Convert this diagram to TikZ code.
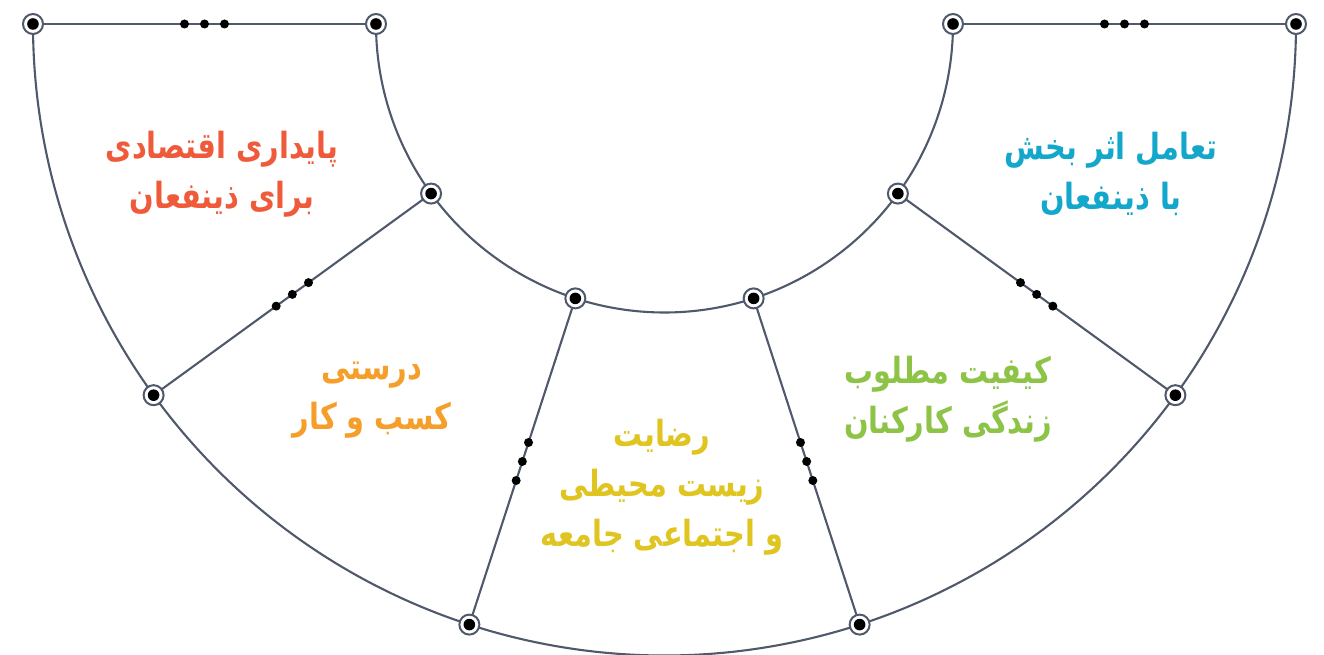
\documentclass[tikz,border=0pt]{standalone}
\usepackage{fontspec}
\usetikzlibrary{backgrounds}
\TeXXeTstate=1
\newfontfamily\arabicfont[Script=Arabic,FakeStretch=0.8]{DejaVu Sans}
\definecolor{edgegray}{HTML}{4F596B}
\definecolor{tRed}{HTML}{EF5A3A}
\definecolor{tOrange}{HTML}{F59E2A}
\definecolor{tYellow}{HTML}{E0C420}
\definecolor{tGreen}{HTML}{8DC447}
\definecolor{tCyan}{HTML}{14A7CC}
\begin{document}
\begin{tikzpicture}[x=1pt,y=1pt,
  marker/.style={circle,draw=edgegray,fill=white,line width=2pt,
    minimum size=20pt,inner sep=0pt,
    path picture={\fill[black] (path picture bounding box.center) circle (5.8pt);}},
  elldot/.style={circle,fill=black,minimum size=9pt,inner sep=0pt},
  edge/.style={draw=edgegray,line width=2.1pt},
  label/.style={font=\arabicfont\bfseries\fontsize{36}{50}\selectfont,align=center,anchor=center}]
\useasboundingbox (-664.5,-631) rectangle (659.5,24);

% vertices on the inner and outer arcs
\foreach \k in {0,...,5}{
  \node[marker] (i\k) at ({180+36*\k}:288.5) {};
  \node[marker] (o\k) at ({180+36*\k}:631.5) {};
}

\begin{scope}[on background layer]
  % arcs between neighbouring vertices
  \foreach \k in {0,...,4}{
    \draw[edge] (i\k.center) arc[start angle={180+36*\k},delta angle=36,radius=288.5];
    \draw[edge] (o\k.center) arc[start angle={180+36*\k},delta angle=36,radius=631.5];
  }
  % radial spokes, each with an ellipsis in the middle
  \foreach \k in {0,...,5}{
    \draw[edge] (o\k.center) -- (i\k.center)
      node[elldot,pos=0.4417]{} node[elldot,pos=0.5]{} node[elldot,pos=0.5583]{};
  }
\end{scope}

% sector captions
\node[label,text=tRed] (s1) at (-442.5,-150)
  {\beginR پایداری اقتصادی\endR\\\beginR برای ذینفعان\endR};
\node[label,text=tOrange] (s2) at (-292.5,-376)
  {\beginR درستی\endR\\\beginR کسب و کار\endR};
\node[label,text=tYellow] (s3) at (-2.5,-463)
  {\beginR رضایت\endR\\\beginR زیست محیطی\endR\\\beginR و اجتماعی جامعه\endR};
\node[label,text=tGreen] (s4) at (283.5,-375)
  {\beginR کیفیت مطلوب\endR\\\beginR زندگی کارکنان\endR};
\node[label,text=tCyan] (s5) at (446.5,-150)
  {\beginR تعامل اثر بخش\endR\\\beginR با ذینفعان\endR};
\end{tikzpicture}
\end{document}
